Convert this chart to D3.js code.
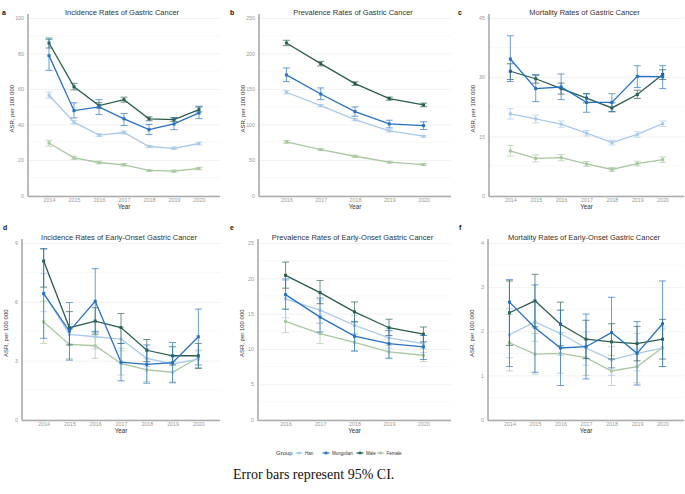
<!doctype html>
<html>
<head>
<meta charset="utf-8">
<title>Gastric Cancer Rates</title>
<script src="https://cdn.jsdelivr.net/npm/d3@7"></script>
<style>
  body { margin: 0; background: #fff; }
  svg { display: block; }
</style>
</head>
<body>
<script>

// years per panel
var years7 = [2014, 2015, 2016, 2017, 2018, 2019, 2020];
var years5 = [2016, 2017, 2018, 2019, 2020];

var groups = ["Han", "Mongolian", "Male", "Female"];
var colors = { Han: "#a9c9ea", Mongolian: "#2671c2", Male: "#2a5e4c", Female: "#a9c7a1" };

// [value, lower, upper]
// a: incidence
var incHan = [[56.5,54.8,58.3],[41.3,40.3,42.3],[34.0,33.2,34.8],[35.5,34.6,36.4],[27.6,26.9,28.3],[26.6,25.9,27.3],[29.3,28.5,30.1]];
var incMon = [[78.8,70.5,87.8],[47.8,43.7,52.2],[49.9,45.6,54.0],[43.2,39.4,46.2],[37.1,34.3,40.0],[40.3,37.1,43.7],[46.5,43.3,50.3]];
var incMale = [[85.9,83.1,88.7],[61.2,59.5,63.2],[50.7,49.2,52.3],[54.0,52.6,55.4],[43.2,42.1,44.3],[42.8,41.7,43.9],[48.4,47.1,49.8]];
var incFemale = [[29.6,27.8,31.1],[21.2,20.3,22.1],[18.6,17.8,19.4],[17.3,16.6,18.0],[14.1,13.5,14.7],[13.7,13.1,14.3],[15.2,14.5,15.9]];

// b: prevalence
var prevHan = [[145.4,143.2,147.6],[126.6,125.0,128.2],[106.9,105.4,108.4],[91.0,89.7,92.3],[83.5,82.2,84.8]];
var prevMon = [[169.8,160.4,179.6],[143.0,135.0,151.5],[118.2,111.6,124.8],[100.8,95.2,106.0],[98.5,92.9,103.7]];
var prevMale = [[214.8,211.0,218.6],[185.7,182.5,188.9],[157.6,155.0,160.2],[136.5,134.3,138.7],[127.6,125.1,130.1]];
var prevFemale = [[75.5,73.6,77.4],[64.7,63.2,66.2],[55.3,54.0,56.6],[46.9,45.8,48.0],[43.6,42.5,44.7]];

// c: mortality
var morHan = [[20.7,19.4,22.0],[19.4,18.4,20.4],[18.1,17.3,18.9],[15.8,15.1,16.5],[13.4,12.8,14.0],[15.5,14.8,16.2],[18.2,17.5,18.9]];
var morMon = [[34.6,28.9,40.5],[27.1,23.8,30.4],[27.5,24.3,30.8],[23.6,21.1,25.8],[23.6,21.3,25.8],[30.2,27.4,32.9],[30.1,27.1,32.9]];
var morMale = [[31.5,29.4,33.4],[29.6,28.5,30.7],[27.1,25.7,28.5],[24.7,23.5,25.8],[22.2,21.2,23.5],[25.6,24.6,26.7],[30.7,29.4,31.9]];
var morFemale = [[11.3,10.0,12.7],[9.4,8.5,10.3],[9.6,8.8,10.4],[8.0,7.4,8.6],[6.6,6.1,7.1],[8.1,7.5,8.7],[9.1,8.4,9.8]];

// d: incidence, early-onset
var eoIncHan = [[6.45,5.5,7.44],[4.34,3.85,4.85],[4.22,3.6,4.5],[4.1,3.5,4.7],[3.12,2.7,3.6],[2.83,2.45,3.2],[3.08,2.65,3.5]];
var eoIncMon = [[6.42,4.14,8.71],[4.51,3.03,5.97],[6.03,4.47,7.69],[2.92,1.97,3.88],[2.81,1.85,3.80],[2.90,1.90,3.93],[4.22,2.78,5.63]];
var eoIncMale = [[8.08,6.75,8.7],[4.68,3.8,5.5],[5.02,4.35,5.7],[4.69,3.88,5.41],[3.53,2.95,4.08],[3.25,2.78,3.71],[3.25,2.61,3.88]];
var eoIncFemale = [[4.97,3.88,6.03],[3.83,3.1,4.6],[3.76,3.12,4.47],[2.86,2.27,3.63],[2.53,1.93,3.12],[2.41,1.85,2.95],[3.15,2.61,3.54]];

// e: prevalence, early-onset
var eoPrevHan = [[17.1,14.4,19.7],[15.5,13.7,16.9],[13.35,12.0,14.7],[11.55,10.1,12.9],[10.75,9.5,11.9]];
var eoPrevMon = [[17.69,15.6,19.9],[14.5,12.4,17.2],[11.8,9.7,13.9],[10.75,8.7,12.6],[10.3,8.5,11.9]];
var eoPrevMale = [[20.42,18.6,22.3],[17.97,16.4,19.7],[15.24,13.8,16.65],[13.0,11.9,14.2],[12.08,11.0,13.1]];
var eoPrevFemale = [[13.9,12.3,15.7],[12.17,10.75,13.6],[10.94,9.7,12.2],[9.58,8.6,10.5],[9.1,8.2,10.0]];

// f: mortality, early-onset
var eoMorHan = [[1.92,1.40,2.51],[2.21,1.77,2.68],[1.95,1.45,2.47],[1.62,1.23,1.99],[1.35,1.0,1.65],[1.5,1.1,1.95],[1.62,1.2,2.1]];
var eoMorMon = [[2.66,1.20,3.17],[2.08,1.07,3.05],[1.62,0.77,2.48],[1.65,0.92,2.39],[1.97,1.17,2.77],[1.5,0.78,2.22],[2.17,1.2,3.14]];
var eoMorMale = [[2.42,1.68,3.14],[2.69,2.1,3.29],[2.16,1.67,2.66],[1.82,1.38,2.25],[1.76,1.37,2.17],[1.72,1.33,2.11],[1.82,1.37,2.27]];
var eoMorFemale = [[1.74,1.1,2.38],[1.48,1.03,1.95],[1.5,1.05,1.97],[1.4,1.0,1.82],[1.1,0.77,1.45],[1.2,0.83,1.6],[1.63,1.2,2.05]];

var panels = [
  { tag: "a", title: "Incidence Rates of Gastric Cancer", years: years7, yMax: 100, step: 20,
    left: 28, right: 220, top: 18, bottom: 195.5, labX: 2, labY: 14.5,
    data: { Han: incHan, Mongolian: incMon, Male: incMale, Female: incFemale } },
  { tag: "b", title: "Prevalence Rates of Gastric Cancer", years: years5, yMax: 250, step: 50,
    left: 259, right: 451, top: 18, bottom: 195.5, labX: 230, labY: 14.5,
    data: { Han: prevHan, Mongolian: prevMon, Male: prevMale, Female: prevFemale } },
  { tag: "c", title: "Mortality Rates of Gastric Cancer", years: years7, yMax: 45, step: 15,
    left: 489, right: 684, top: 18, bottom: 195.5, labX: 458, labY: 14.5,
    data: { Han: morHan, Mongolian: morMon, Male: morMale, Female: morFemale } },
  { tag: "d", title: "Incidence Rates of Early-Onset Gastric Cancer", years: years7, yMax: 9, step: 3,
    left: 22, right: 220, top: 243, bottom: 419.5, labX: 3, labY: 229.5,
    data: { Han: eoIncHan, Mongolian: eoIncMon, Male: eoIncMale, Female: eoIncFemale } },
  { tag: "e", title: "Prevalence Rates of Early-Onset Gastric Cancer", years: years5, yMax: 25, step: 5,
    left: 258, right: 451, top: 243, bottom: 419.5, labX: 230, labY: 229.5,
    data: { Han: eoPrevHan, Mongolian: eoPrevMon, Male: eoPrevMale, Female: eoPrevFemale } },
  { tag: "f", title: "Mortality Rates of Early-Onset Gastric Cancer", years: years7, yMax: 4, step: 1,
    left: 488, right: 684, top: 243, bottom: 419.5, labX: 459, labY: 229.5,
    data: { Han: eoMorHan, Mongolian: eoMorMon, Male: eoMorMale, Female: eoMorFemale } }
];

var drawOrder = ["Female", "Han", "Male", "Mongolian"];
var font = "Liberation Sans, Arial, sans-serif";

var svg = d3.select("body").append("svg")
    .attr("width", 685)
    .attr("height", 494);

panels.forEach(function(p) {
    var pad = p.years.length === 7 ? 0.84 : 0.8;
    var x = d3.scaleLinear()
        .domain([p.years[0] - pad, p.years[p.years.length - 1] + pad])
        .range([p.left, p.right]);
    var y = d3.scaleLinear()
        .domain([0, p.yMax])
        .range([p.bottom, p.top]);

    var g = svg.append("g");

    // minor grid
    var minor = d3.range(p.step / 2, p.yMax, p.step);
    g.selectAll(".minor").data(minor).enter().append("line")
        .attr("x1", p.left).attr("x2", p.right)
        .attr("y1", function(d) { return y(d); })
        .attr("y2", function(d) { return y(d); })
        .attr("stroke", "#f4f4f4")
        .attr("stroke-width", 0.6);

    // major grid + y labels via axis
    var yAxis = d3.axisLeft(y)
        .tickValues(d3.range(0, p.yMax + p.step / 2, p.step))
        .tickSize(-(p.right - p.left))
        .tickPadding(4)
        .tickFormat(d3.format("d"));
    var ya = g.append("g")
        .attr("transform", "translate(" + p.left + ",0)")
        .call(yAxis);
    ya.select(".domain").remove();
    ya.selectAll(".tick line").attr("stroke", "#ececec").attr("stroke-width", 0.7);
    ya.selectAll(".tick text")
        .attr("fill", "#999")
        .attr("font-family", font)
        .attr("font-size", "5.3px");

    // x axis labels
    var xAxis = d3.axisBottom(x)
        .tickValues(p.years)
        .tickSize(0)
        .tickPadding(2)
        .tickFormat(d3.format("d"));
    var xa = g.append("g")
        .attr("transform", "translate(0," + (p.bottom + 1) + ")")
        .call(xAxis);
    xa.select(".domain").remove();
    xa.selectAll(".tick text")
        .attr("fill", "#999")
        .attr("font-family", font)
        .attr("font-size", "5.3px");

    // axis lines
    g.append("line")
        .attr("x1", p.left).attr("x2", p.left)
        .attr("y1", p.top - 4).attr("y2", p.bottom + 1)
        .attr("stroke", "#aaa").attr("stroke-width", 1.6);
    g.append("line")
        .attr("x1", p.left).attr("x2", p.right)
        .attr("y1", p.bottom + 1).attr("y2", p.bottom + 1)
        .attr("stroke", "#aaa").attr("stroke-width", 1.6);

    // titles and labels
    g.append("text")
        .attr("x", (p.left + p.right) / 2 - 2)
        .attr("y", p.top - 3.5)
        .attr("text-anchor", "middle")
        .attr("font-family", font)
        .attr("font-size", "7.5px")
        .attr("fill", "#333")
        .text(p.title);

    g.append("text")
        .attr("x", p.labX)
        .attr("y", p.labY)
        .attr("font-family", font)
        .attr("font-size", "7px")
        .attr("font-weight", "bold")
        .attr("fill", "#111")
        .text(p.tag);

    g.append("text")
        .attr("transform", "translate(" + (p.left - 14) + "," + ((p.top + p.bottom) / 2 + 2) + ") rotate(-90)")
        .attr("text-anchor", "middle")
        .attr("font-family", font)
        .attr("font-size", "6px")
        .attr("fill", "#333")
        .text("ASR, per 100 000");

    g.append("text")
        .attr("x", x((p.years[0] + p.years[p.years.length - 1]) / 2))
        .attr("y", p.bottom + 13.8)
        .attr("text-anchor", "middle")
        .attr("font-family", font)
        .attr("font-size", "6.3px")
        .attr("fill", "#333")
        .text("Year");

    var line = d3.line()
        .x(function(d, i) { return x(p.years[i]); })
        .y(function(d) { return y(d[0]); });

    drawOrder.forEach(function(grp) {
        var vals = p.data[grp];
        var col = colors[grp];
        var sg = g.append("g");

        // error bars
        var eb = sg.selectAll(".eb").data(vals).enter().append("g")
            .attr("stroke", col)
            .attr("stroke-width", 0.8)
            .attr("opacity", 0.85);
        eb.append("line")
            .attr("x1", function(d, i) { return x(p.years[i]); })
            .attr("x2", function(d, i) { return x(p.years[i]); })
            .attr("y1", function(d) { return y(d[1]); })
            .attr("y2", function(d) { return y(d[2]); });
        eb.append("line")
            .attr("x1", function(d, i) { return x(p.years[i]) - 3.5; })
            .attr("x2", function(d, i) { return x(p.years[i]) + 3.5; })
            .attr("y1", function(d) { return y(d[1]); })
            .attr("y2", function(d) { return y(d[1]); });
        eb.append("line")
            .attr("x1", function(d, i) { return x(p.years[i]) - 3.5; })
            .attr("x2", function(d, i) { return x(p.years[i]) + 3.5; })
            .attr("y1", function(d) { return y(d[2]); })
            .attr("y2", function(d) { return y(d[2]); });

        sg.append("path")
            .datum(vals)
            .attr("d", line)
            .attr("fill", "none")
            .attr("stroke", col)
            .attr("stroke-width", 1.3);

        sg.selectAll(".pt").data(vals).enter().append("rect")
            .attr("x", function(d, i) { return x(p.years[i]) - 1.5; })
            .attr("y", function(d) { return y(d[0]) - 1.5; })
            .attr("width", 3)
            .attr("height", 3)
            .attr("fill", col);
    });
});

// legend
var legend = svg.append("g").attr("transform", "translate(0,453)");
legend.append("text")
    .attr("x", 276).attr("y", 2)
    .attr("font-family", font)
    .attr("font-size", "6px")
    .attr("fill", "#333")
    .text("Group");

var legX = { Han: 299, Mongolian: 326, Male: 360, Female: 380.5 };
groups.forEach(function(grp) {
    var cx = legX[grp];
    legend.append("line")
        .attr("x1", cx - 3.5).attr("x2", cx + 3.5)
        .attr("y1", 0).attr("y2", 0)
        .attr("stroke", colors[grp]).attr("stroke-width", 1.2);
    legend.append("rect")
        .attr("x", cx - 1.3).attr("y", -1.3)
        .attr("width", 2.6).attr("height", 2.6)
        .attr("fill", colors[grp]);
    legend.append("text")
        .attr("x", cx + 6).attr("y", 1.6)
        .attr("font-family", font)
        .attr("font-size", "4.5px")
        .attr("fill", "#333")
        .text(grp);
});

svg.append("text")
    .attr("x", 233).attr("y", 479)
    .attr("font-family", "Liberation Serif, Times New Roman, serif")
    .attr("font-size", "14px")
    .attr("fill", "#111")
    .text("Error bars represent 95% CI.");

</script>
</body>
</html>
